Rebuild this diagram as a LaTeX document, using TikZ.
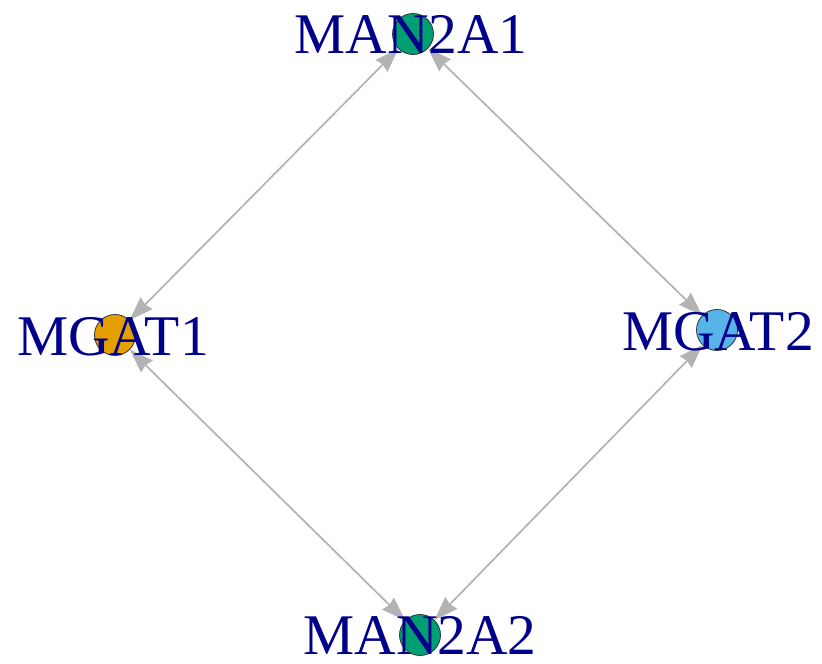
\documentclass[tikz,border=0pt]{standalone}
\usepackage{fontspec}
\setmainfont{Liberation Serif}
\usetikzlibrary{arrows.meta}
\definecolor{okgreen}{HTML}{009E73}
\definecolor{okorange}{HTML}{E69F00}
\definecolor{okblue}{HTML}{56B4E9}
\definecolor{labelblue}{HTML}{00008B}
\definecolor{edgegray}{HTML}{B3B3B3}
\tikzset{
  vertex/.style={circle, draw=black!80, line width=0.8pt, minimum size=41pt, inner sep=0pt},
  vlabel/.style={anchor=base, inner sep=0pt, text=labelblue, font=\fontsize{57.5}{60}\selectfont},
  headtip/.tip={Stealth[length=24pt,width=17pt,inset=2pt,line width=0pt]},
  link/.style={draw=edgegray, fill=edgegray, line width=1.7pt, headtip-headtip}
}
\begin{document}
\begin{tikzpicture}[x=1pt,y=-1pt]
\useasboundingbox (0,0) rectangle (822,664);
\node[vertex, fill=okgreen] (m1) at (413,34) {};
\node[vertex, fill=okorange] (g1) at (115,335) {};
\node[vertex, fill=okblue] (g2) at (717,330) {};
\node[vertex, fill=okgreen] (m2) at (420,635) {};
\draw[link] (m1) -- (g1);
\draw[link] (m1) -- (g2);
\draw[link] (g1) -- (m2);
\draw[link] (g2) -- (m2);
\node[vlabel] (t1) at (411,53) {MAN2A1};
\node[vlabel] (t2) at (113,355.5) {MGAT1};
\node[vlabel] (t3) at (718,350) {MGAT2};
\node[vlabel] (t4) at (420,654) {MAN2A2};
\end{tikzpicture}
\end{document}
